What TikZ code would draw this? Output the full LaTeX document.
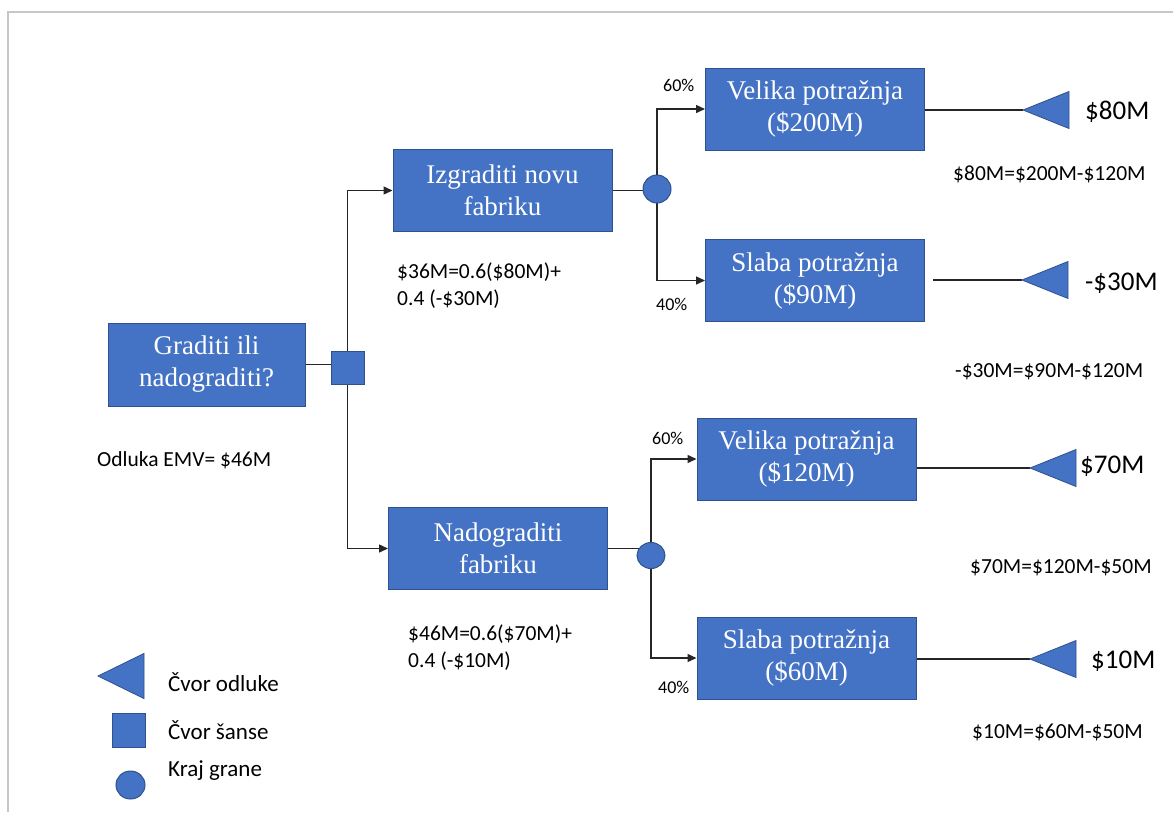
\documentclass[tikz,border=0pt]{standalone}
\usepackage{fontspec}
\setmainfont{Liberation Serif}
\newfontfamily\carl{Carlito}
\usetikzlibrary{arrows.meta,shapes.geometric}
\definecolor{boxblue}{HTML}{4472C4}
\definecolor{boxedge}{HTML}{2F528F}
\pgfdeclarelayer{paper}
\pgfdeclarelayer{wires}
\pgfsetlayers{paper,wires,main}

\begin{document}
\begin{tikzpicture}[x=1pt,y=-1pt,
  box/.style={draw=boxedge, fill=boxblue, line width=1pt, text=white,
    minimum width=219pt, minimum height=82pt, align=center, inner sep=0pt,
    font=\fontsize{27}{32}\selectfont},
  chance/.style={draw=boxedge, fill=boxblue, line width=1pt, minimum size=33pt, inner sep=0pt},
  endnode/.style={ellipse, draw=boxedge, fill=boxblue, line width=1pt, inner sep=0pt},
  link/.style={draw=black!85, line width=1.4pt},
  arr/.style={link, -{Triangle[length=9pt,width=8pt]}},
  small/.style={font=\carl\fontsize{21.5}{26}\selectfont, inner sep=0pt, anchor=base west},
  pct/.style={font=\carl\fontsize{18}{22}\selectfont, inner sep=0pt, anchor=base west},
  big/.style={font=\carl\fontsize{27}{32}\selectfont, inner sep=0pt, anchor=base west},
  legendtxt/.style={font=\carl\fontsize{23}{28}\selectfont, inner sep=0pt, anchor=base west},
  decision/.pic={\path[fill=boxblue, draw=boxedge, line width=0.8pt]
    (0,0) -- (46,-18.5) -- (46,18.5) -- cycle;},
]
\useasboundingbox (0,0) rectangle (1173,812);
\begin{pgfonlayer}{paper}
  \fill[white] (0,0) rectangle (1173,812);
  \draw[black!22, line width=2pt] (8,812) -- (8,12) -- (1173,12);
\end{pgfonlayer}

% decision and chance structure
\node[box, minimum width=197pt, minimum height=83pt] (root) at (206.5,364.5) {Graditi ili\\nadograditi?};
\node[chance] (ch) at (347.5,367.5) {};
\node[box] (build) at (502.5,190.5) {Izgraditi novu\\fabriku};
\node[box] (upg) at (498,548.5) {Nadograditi\\fabriku};
\node[endnode, minimum width=28pt, minimum height=28pt] (c1) at (657,189) {};
\node[endnode, minimum width=28pt, minimum height=26pt] (c2) at (651,555.5) {};
\node[box] (v1) at (815,109) {Velika potražnja\\(\$200M)};
\node[box] (s1) at (815,280.5) {Slaba potražnja\\(\$90M)};
\node[box] (v2) at (806.5,459) {Velika potražnja\\(\$120M)};
\node[box] (s2) at (806.5,658) {Slaba potražnja\\(\$60M)};

% payoff markers
\coordinate (t1) at (1023,110);
\coordinate (t2) at (1022,280);
\coordinate (t3) at (1030,468);
\coordinate (t4) at (1030,659);
\pic at (t1) {decision};
\pic at (t2) {decision};
\pic at (t3) {decision};
\pic at (t4) {decision};

\begin{pgfonlayer}{wires}
  \draw[link] (root.east) -- (root.east -| ch.center);
  \draw[arr] (ch.center) |- (build.west);
  \draw[arr] (ch.center) |- (upg.west);
  \draw[link] (build.east) -- (build.east -| c1.center);
  \draw[arr] (c1.center) |- (v1.west);
  \draw[arr] (c1.center) |- (s1.west);
  \draw[link] (upg.east) -- (upg.east -| c2.center);
  \draw[arr] (c2.center) |- (v2.west);
  \draw[arr] (c2.center) |- (s2.west);
  \draw[link] (v1.east |- t1) -- (t1);
  \draw[link] ([xshift=8pt]s1.east |- t2) -- (t2);
  \draw[link] (v2.east |- t3) -- (t3);
  \draw[link] (s2.east |- t4) -- (t4);
\end{pgfonlayer}

% probabilities
\node[pct] (p1) at (663,91) {60\%};
\node[pct] (p2) at (656,310) {40\%};
\node[pct] (p3) at (652,444) {60\%};
\node[pct] (p4) at (658,693) {40\%};

% expected values
\node[small] (e1a) at (397,278) {\$36M=0.6(\$80M)+};
\node[small] (e1b) at (397,305) {0.4 (-\$30M)};
\node[small] (e2a) at (408,640) {\$46M=0.6(\$70M)+};
\node[small] (e2b) at (408,667) {0.4 (-\$10M)};
\node[small] (emv) at (97,466) {Odluka EMV= \$46M};

% payoffs
\node[big] (b1) at (1085,119) {\$80M};
\node[big] (b2) at (1085,290) {-\$30M};
\node[big] (b3) at (1080,473) {\$70M};
\node[big] (b4) at (1091,668) {\$10M};
\node[small] (f1) at (953,180) {\$80M=\$200M-\$120M};
\node[small] (f2) at (955,377) {-\$30M=\$90M-\$120M};
\node[small] (f3) at (970,573) {\$70M=\$120M-\$50M};
\node[small] (f4) at (972,738) {\$10M=\$60M-\$50M};

% legend
\coordinate (lt) at (98,676);
\pic[yscale=1.22] at (lt) {decision};
\node[chance, minimum width=33pt, minimum height=34pt] (lsq) at (128.5,730) {};
\node[endnode, minimum width=29pt, minimum height=28pt] (lci) at (130.5,785) {};
\node[legendtxt] (l1) at (168,691) {Čvor odluke};
\node[legendtxt] (l2) at (168,739) {Čvor šanse};
\node[legendtxt] (l3) at (168,776) {Kraj grane};
\end{tikzpicture}
\end{document}
